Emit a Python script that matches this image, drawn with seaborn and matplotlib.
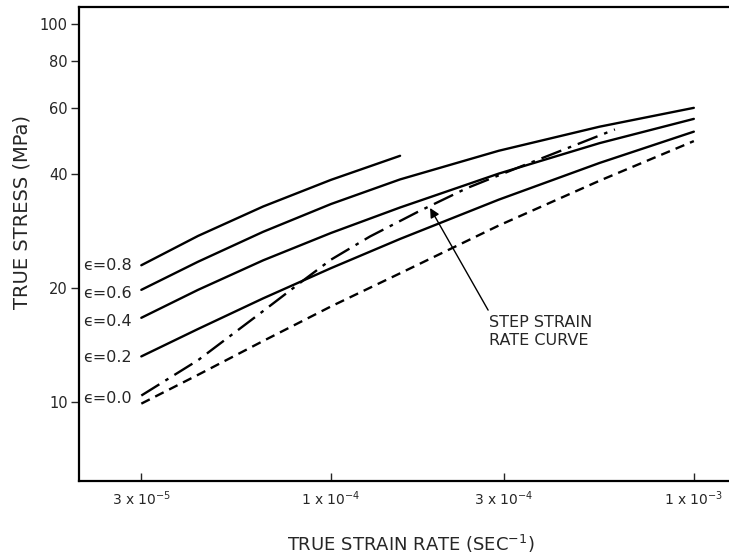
import matplotlib
matplotlib.use("Agg")
import matplotlib.pyplot as plt
import seaborn as sns
import pandas as pd

# values (strain rate in 1/s, stress in MPa)
rate = [3.0e-5, 4.3e-5, 6.5e-5, 1.0e-4, 1.55e-4, 2.9e-4, 5.5e-4, 1.0e-3]
stress_08 = [23.0, 27.5, 32.9, 38.7, 44.8]
stress_06 = [19.8, 23.5, 28.2, 33.4, 38.8, 46.2, 53.5, 60.0]
stress_04 = [16.7, 19.8, 23.7, 28.0, 32.7, 40.2, 48.4, 56.1]
stress_02 = [13.2, 15.6, 18.8, 22.6, 27.0, 34.3, 42.9, 51.9]
stress_00 = [9.9, 11.8, 14.5, 17.9, 21.9, 29.3, 38.5, 49.0]

step_rate = [3.0e-5, 4.3e-5, 6.5e-5, 8.4e-5, 1.0e-4, 1.28e-4, 1.73e-4, 2.37e-4, 3.32e-4, 6.06e-4]
step_stress = [10.4, 12.9, 17.4, 21.0, 23.8, 27.4, 31.8, 36.8, 41.9, 52.6]

strain_labels = ["ϵ=0.8", "ϵ=0.6", "ϵ=0.4", "ϵ=0.2", "ϵ=0.0"]
label_y = [23.0, 19.4, 16.3, 13.1, 10.2]

xticks = [3e-5, 1e-4, 3e-4, 1e-3]
xtick_labels = ["3 x 10$^{-5}$", "1 x 10$^{-4}$", "3 x 10$^{-4}$", "1 x 10$^{-3}$"]
yticks = [10, 20, 40, 60, 80, 100]

sns.set_style("ticks")
plt.rcParams["font.family"] = ["DejaVu Sans"]

fig = plt.figure(figsize=(7.29, 5.55), dpi=100)
ax = fig.add_axes([79 / 729, 74 / 555, 650 / 729, 474 / 555])

for s in [stress_08, stress_06, stress_04, stress_02]:
    sns.lineplot(x=rate[:len(s)], y=s, ax=ax, color="black", lw=1.7)
sns.lineplot(x=rate, y=stress_00, ax=ax, color="black", lw=1.7)
ax.lines[-1].set_linestyle((0, (4, 2.6)))
sns.lineplot(x=step_rate, y=step_stress, ax=ax, color="black", lw=1.7)
ax.lines[-1].set_linestyle((0, (9, 3, 1.5, 3)))

ax.set_xscale("log")
ax.set_yscale("log")
ax.set_xlim(2.02e-5, 1.25e-3)
ax.set_ylim(6.18, 110.9)

ax.set_xticks(xticks)
ax.set_xticklabels(xtick_labels, fontsize=10)
ax.set_yticks(yticks)
ax.set_yticklabels([str(v) for v in yticks], fontsize=10.5)
ax.minorticks_off()
ax.tick_params(axis="x", direction="in", length=6, width=1, pad=6)
ax.tick_params(axis="y", direction="out", length=6, width=1, pad=2)

for side in ["left", "bottom", "top"]:
    ax.spines[side].set_linewidth(1.6)
    ax.spines[side].set_color("black")
ax.spines["right"].set_visible(False)

for txt, yv in zip(strain_labels, label_y):
    ax.text(2.82e-5, yv, txt, ha="right", va="center", fontsize=11.5)

ax.annotate("", xy=(1.875e-4, 32.6), xytext=(2.71e-4, 17.5),
            arrowprops=dict(arrowstyle="-|>", color="black", lw=1,
                            mutation_scale=14, shrinkA=0, shrinkB=0))
ax.text(2.73e-4, 17.0, "STEP STRAIN\nRATE CURVE", ha="left", va="top",
        fontsize=11.5, linespacing=1.3)

ax.set_xlabel("TRUE STRAIN RATE (SEC$^{-1}$)", fontsize=13)
ax.set_ylabel("TRUE STRESS (MPa)", fontsize=14)
ax.xaxis.set_label_coords(0.51, -0.11)
ax.yaxis.set_label_coords(-0.073, 0.567)

fig.savefig("out.png", dpi=100)
